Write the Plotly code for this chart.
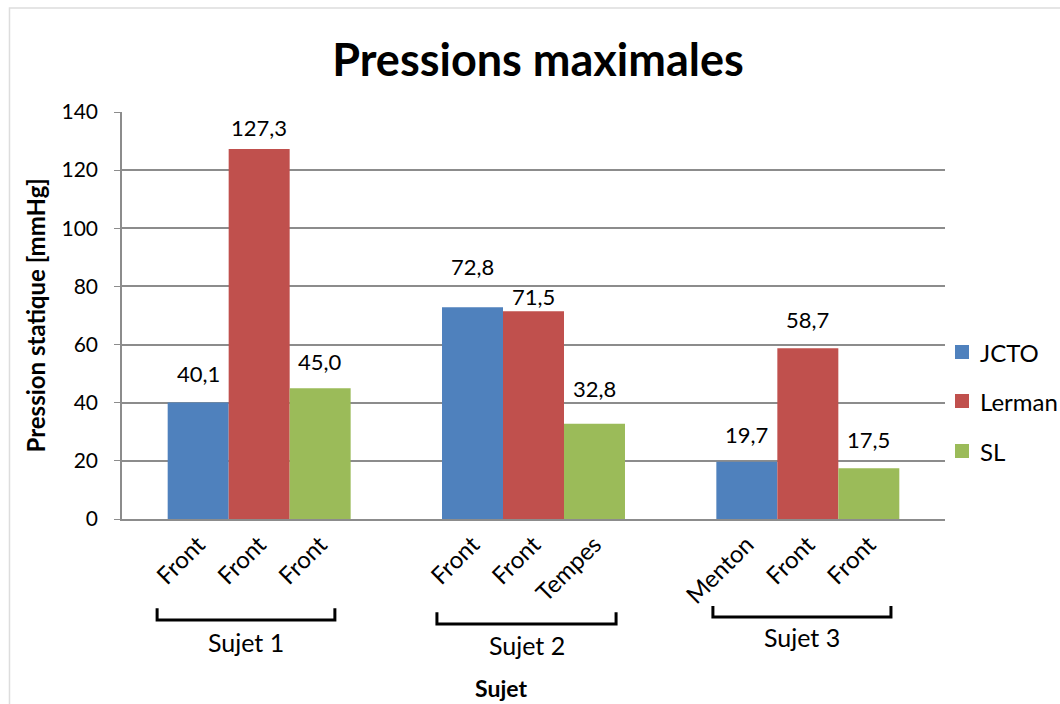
import plotly.graph_objects as go

# ---- data ----
groups = ["Sujet 1", "Sujet 2", "Sujet 3"]
series = ["JCTO", "Lerman", "SL"]
jcto = [40.1, 72.8, 19.7]
lerman = [127.3, 71.5, 58.7]
sl = [45.0, 32.8, 17.5]
jcto_sites = ["Front", "Front", "Menton"]
lerman_sites = ["Front", "Front", "Front"]
sl_sites = ["Front", "Tempes", "Front"]

values = [jcto, lerman, sl]
sites = [jcto_sites, lerman_sites, sl_sites]
colors = ["#4F81BD", "#C0504D", "#9BBB59"]
label_shift = [[13, 25, 12], [6, -1, 13], [11, 20, 13]]  # manual label offsets (px)

FONT = "Lato, Open Sans, sans-serif"
W, H = 1060, 704
ML, MR, MT, MB = 122, 115, 112, 185
PW, PH = W - ML - MR, H - MT - MB

bargap = 0.333
n = len(series)
w = (1 - bargap) / n
gx = list(range(len(groups)))

fig = go.Figure()
for i, (name, vals) in enumerate(zip(series, values)):
    fig.add_trace(go.Bar(
        x=gx, y=vals, name=name, marker=dict(color=colors[i], line=dict(width=0)),
        hoverinfo="y", showlegend=False,
    ))

# tick labels under each bar
tickvals, ticktext = [], []
for g in gx:
    for i in range(n):
        tickvals.append(g + (i - (n - 1) / 2) * w)
        ticktext.append(sites[i][g])

annotations = []
# value labels
for i in range(n):
    for g in gx:
        annotations.append(dict(
            x=g + (i - (n - 1) / 2) * w, y=values[i][g], xref="x", yref="y",
            text=f"{values[i][g]:.1f}".replace(".", ","), showarrow=False,
            yanchor="bottom", yshift=label_shift[i][g],
            font=dict(family=FONT, size=22, color="#000000"),
        ))

# group brackets (decoration)
br_off = [(-0.372, 0.276, -0.219, -0.248, -0.302),
          (-0.352, 0.301, -0.229, -0.258, -0.310),
          (-0.346, 0.303, -0.214, -0.241, -0.290)]
shapes = []
for g, (a, b, ytop, ybot, ytxt) in zip(gx, br_off):
    x0, x1 = g + a, g + b
    shapes.append(dict(
        type="path", xref="x", yref="paper",
        path=f"M {x0},{ytop} L {x0},{ybot} L {x1},{ybot} L {x1},{ytop}",
        line=dict(color="#000000", width=3),
    ))
    annotations.append(dict(
        x=(x0 + x1) / 2, y=ytxt, xref="x", yref="paper", text=groups[g],
        showarrow=False, font=dict(family=FONT, size=25, color="#000000"),
        yanchor="middle",
    ))

annotations.append(dict(
    x=0.4605, y=-0.415, xref="paper", yref="paper", text="<b>Sujet</b>",
    showarrow=False, font=dict(family=FONT, size=23, color="#000000"), yanchor="middle",
))
annotations.append(dict(
    x=-0.1045, y=0.5, xref="paper", yref="paper", text="<b>Pression statique [mmHg]</b>",
    showarrow=False, textangle=-90, font=dict(family=FONT, size=24, color="#000000"),
    xanchor="center", yanchor="middle",
))

# legend (drawn manually at right)
leg_x0 = (955 - ML) / PW
leg_sq = 14
leg_rows = [(519 - 352), (519 - 401), (519 - 451)]
for i, name in enumerate(series):
    yc = leg_rows[i] / PH
    hh = (leg_sq / 2) / PH
    shapes.append(dict(type="rect", xref="paper", yref="paper",
                       x0=leg_x0, x1=leg_x0 + leg_sq / PW, y0=yc - hh, y1=yc + hh,
                       fillcolor=colors[i], line=dict(width=0)))
    annotations.append(dict(
        x=leg_x0 + (leg_sq + 9) / PW, y=yc, xref="paper", yref="paper", text=name,
        showarrow=False, xanchor="left", yanchor="middle",
        font=dict(family=FONT, size=24, color="#000000"),
    ))

# outer chart border
shapes.append(dict(type="rect", xref="paper", yref="paper", x0=-0.1367, y0=-0.6,
                   x1=1.3, y1=1.2555, line=dict(color="#DDDDDD", width=1.5),
                   layer="below"))

fig.update_layout(
    width=W, height=H, autosize=False,
    margin=dict(l=ML, r=MR, t=MT, b=MB),
    paper_bgcolor="white", plot_bgcolor="white",
    barmode="group", bargap=bargap, bargroupgap=0,
    title=dict(text="<b>Pressions maximales</b>", x=0.5055, xref="paper",
               y=1 - 60 / H, yanchor="middle",
               font=dict(family=FONT, size=45, color="#000000")),
    font=dict(family=FONT, size=21, color="#000000"),
    showlegend=False,
    annotations=annotations, shapes=shapes,
)
fig.update_xaxes(
    range=[-0.5, 2.5], tickmode="array", tickvals=tickvals, ticktext=ticktext,
    tickangle=-45, tickfont=dict(family=FONT, size=24, color="#000000"),
    showline=True, linecolor="#8C8C8C", linewidth=2, showgrid=False,
    ticks="", zeroline=False,
)
fig.update_yaxes(
    range=[0, 140], dtick=20, showgrid=True, gridcolor="#8C8C8C", gridwidth=1.5,
    showline=True, linecolor="#8C8C8C", linewidth=1.5, ticks="outside",
    ticklen=6, tickcolor="#8C8C8C", zeroline=False,
    tickfont=dict(family=FONT, size=21, color="#000000"),
    ticklabelstandoff=12,
)

post = ("document.body.style.margin='0';document.body.style.overflow='hidden';"
        "var gd=document.getElementById('{plot_id}');"
        "Plotly.relayout(gd,{width:1060,height:704});")
fig.write_html("out.html", include_plotlyjs=True, post_script=post,
               config={"displayModeBar": False},
               default_width="1060px", default_height="704px")
